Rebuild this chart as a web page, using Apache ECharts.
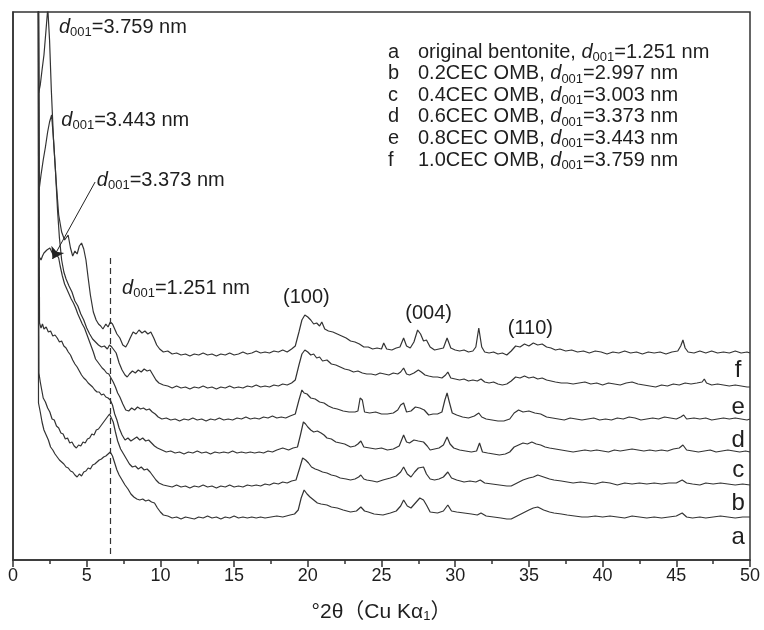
<!DOCTYPE html>
<html>
<head>
<meta charset="utf-8">
<script src="https://cdn.jsdelivr.net/npm/echarts@6/dist/echarts.min.js"></script>
<style>
html, body { margin: 0; padding: 0; background: #fff; }
#main { width: 764px; height: 630px; }
</style>
</head>
<body>
<div id="main"></div>
<script>
// XRD patterns, stacked with offsets: [2θ (°), intensity (a.u.)]
const curveA = [[1.70,700],[1.73,157],[1.85,148],[1.97,138],[2.10,130],[2.25,125],[2.40,120],[2.55,113],[2.70,110],[2.85,106],[3.00,103],[3.15,100],[3.30,98],[3.45,96],[3.60,93],[3.75,92],[3.90,89],[4.05,88],[4.20,85],[4.35,83],[4.50,86],[4.65,84],[4.80,88],[4.95,89],[5.10,92],[5.25,91],[5.40,95],[5.55,96],[5.70,98],[5.85,100],[6.00,101],[6.15,103],[6.30,104],[6.45,106],[6.60,108],[6.75,104],[6.90,97],[7.05,90],[7.20,85],[7.40,80],[7.60,75],[7.80,71],[8.00,66],[8.20,63],[8.40,61],[8.60,60],[8.80,61],[9.00,59],[9.20,60],[9.40,58],[9.60,57],[9.80,52],[10.0,48],[10.2,45],[10.5,44],[10.8,42],[11.1,43],[11.4,41],[11.7,43],[12.0,42],[12.3,41],[12.6,43],[12.9,42],[13.2,44],[13.5,42],[13.8,43],[14.1,41],[14.4,43],[14.7,42],[15.0,44],[15.3,42],[15.6,43],[15.9,42],[16.2,43],[16.5,42],[16.8,43],[17.1,42],[17.5,43],[17.9,44],[18.3,43],[18.8,45],[19.1,46],[19.35,50],[19.55,62],[19.75,70],[19.95,66],[20.15,63],[20.4,60],[20.65,57],[20.9,56],[21.3,55],[21.6,53],[22.0,52],[22.4,50],[22.9,48],[23.3,49],[23.6,53],[23.85,49],[24.1,48],[24.5,46],[25.1,45],[25.6,47],[26.0,49],[26.3,54],[26.5,60],[26.75,54],[27.0,52],[27.3,57],[27.6,62],[27.85,60],[28.05,55],[28.3,48],[28.8,47],[29.2,49],[29.5,55],[29.75,49],[30.1,48],[30.6,47],[31.1,46],[31.5,45],[31.75,47],[32.1,44],[32.6,43],[33.1,42],[33.5,41],[33.8,41],[34.2,44],[34.6,47],[35.0,50],[35.3,52],[35.6,53],[36.0,50],[36.4,48],[36.7,47],[37.2,46],[37.6,45],[38.1,44],[38.6,43],[39.0,43],[39.5,44],[40.0,43],[40.5,44],[41.0,43],[41.5,42],[42.0,44],[42.5,43],[43.0,42],[43.5,43],[44.0,42],[44.5,43],[45.0,44],[45.4,47],[45.7,43],[46.1,42],[46.6,43],[47.0,42],[47.5,43],[48.0,44],[48.5,43],[49.0,42],[49.5,43],[50.0,43]];
const curveB = [[1.70,700],[1.76,187],[1.85,178],[1.95,170],[2.05,162],[2.20,158],[2.35,152],[2.50,148],[2.65,141],[2.80,140],[2.95,134],[3.10,132],[3.25,127],[3.40,126],[3.55,121],[3.70,122],[3.85,117],[4.00,118],[4.15,114],[4.30,112],[4.45,115],[4.60,114],[4.75,118],[4.90,117],[5.05,121],[5.20,122],[5.35,126],[5.50,125],[5.65,130],[5.80,131],[5.95,134],[6.10,137],[6.25,140],[6.40,143],[6.55,146],[6.65,147],[6.80,138],[6.95,128],[7.10,119],[7.30,111],[7.50,106],[7.70,101],[7.90,96],[8.10,93],[8.30,94],[8.50,91],[8.70,93],[8.90,90],[9.10,91],[9.30,88],[9.50,84],[9.70,80],[9.90,77],[10.2,75],[10.5,74],[10.8,73],[11.1,75],[11.4,73],[11.7,74],[12.0,72],[12.3,74],[12.6,73],[12.9,75],[13.2,73],[13.5,74],[13.8,72],[14.1,74],[14.4,73],[14.7,75],[15.0,73],[15.3,74],[15.6,73],[15.9,75],[16.2,74],[16.5,75],[16.8,74],[17.1,76],[17.4,75],[17.7,77],[18.0,76],[18.3,78],[18.6,77],[18.9,79],[19.2,80],[19.45,92],[19.65,102],[19.85,100],[20.05,97],[20.25,93],[20.5,91],[20.7,90],[21.0,88],[21.3,87],[21.6,85],[21.9,84],[22.2,82],[22.6,81],[22.9,80],[23.2,81],[23.45,83],[23.6,85],[23.8,81],[24.0,80],[24.4,79],[24.7,78],[25.1,80],[25.6,82],[26.0,84],[26.3,88],[26.5,93],[26.75,86],[27.0,83],[27.25,88],[27.5,92],[27.85,93],[28.05,86],[28.3,81],[28.6,80],[28.9,81],[29.2,83],[29.5,88],[29.75,82],[30.1,80],[30.6,78],[31.0,79],[31.4,78],[31.7,80],[32.0,77],[32.5,76],[33.0,75],[33.5,74],[33.8,74],[34.2,77],[34.6,80],[35.0,82],[35.3,83],[35.6,85],[36.0,83],[36.4,81],[36.7,80],[37.2,79],[37.6,78],[38.0,77],[38.5,78],[39.0,77],[39.5,76],[40.0,78],[40.5,77],[41.0,75],[41.5,77],[42.0,76],[42.5,77],[43.0,76],[43.5,77],[44.0,76],[44.5,77],[45.0,77],[45.4,80],[45.7,77],[46.1,76],[46.6,75],[47.0,77],[47.5,76],[48.0,77],[48.5,76],[49.0,75],[49.5,76],[50.0,75]];
const curveC = [[1.70,700],[1.80,237],[1.90,232],[2.00,236],[2.10,231],[2.25,233],[2.40,228],[2.55,229],[2.70,224],[2.85,225],[3.00,222],[3.15,218],[3.30,219],[3.45,214],[3.60,212],[3.75,208],[3.90,205],[4.05,200],[4.20,196],[4.35,193],[4.50,189],[4.65,185],[4.80,182],[4.95,180],[5.10,177],[5.25,175],[5.40,173],[5.55,170],[5.70,168],[5.85,168],[6.00,165],[6.15,166],[6.30,163],[6.45,162],[6.60,160],[6.75,155],[6.90,146],[7.05,140],[7.20,132],[7.40,125],[7.60,120],[7.80,122],[8.00,119],[8.20,121],[8.40,123],[8.60,120],[8.80,122],[9.00,119],[9.20,120],[9.40,117],[9.60,114],[9.80,112],[10.1,110],[10.4,108],[10.7,109],[11.0,107],[11.3,108],[11.6,106],[11.9,108],[12.2,107],[12.5,109],[12.8,107],[13.1,108],[13.4,106],[13.7,108],[14.0,107],[14.3,108],[14.6,107],[14.9,109],[15.2,107],[15.5,108],[15.8,107],[16.1,108],[16.4,107],[16.7,108],[17.0,107],[17.3,109],[17.6,108],[17.9,110],[18.3,112],[18.7,110],[19.0,112],[19.3,113],[19.5,125],[19.7,138],[19.85,136],[20.0,133],[20.2,130],[20.4,128],[20.65,129],[20.9,127],[21.1,125],[21.3,122],[21.6,121],[21.9,118],[22.2,117],[22.5,116],[22.9,113],[23.2,114],[23.4,116],[23.6,119],[23.8,113],[24.2,112],[24.6,111],[25.0,112],[25.4,110],[25.8,111],[26.2,114],[26.5,125],[26.7,118],[26.9,117],[27.2,120],[27.5,119],[27.85,118],[28.1,114],[28.3,110],[28.6,111],[28.9,112],[29.2,115],[29.45,123],[29.65,116],[29.9,112],[30.3,110],[30.7,109],[31.1,108],[31.45,109],[31.65,117],[31.85,108],[32.2,107],[32.6,106],[33.0,105],[33.4,106],[33.7,108],[34.0,113],[34.3,115],[34.6,117],[34.9,116],[35.2,118],[35.5,116],[35.8,115],[36.1,113],[36.4,112],[36.8,111],[37.2,110],[37.6,109],[38.0,108],[38.4,109],[38.8,110],[39.2,109],[39.6,110],[40.0,109],[40.4,108],[40.8,110],[41.2,109],[41.6,110],[42.0,111],[42.4,110],[42.8,109],[43.2,110],[43.6,109],[44.0,110],[44.4,109],[44.8,111],[45.2,112],[45.45,115],[45.7,110],[46.1,109],[46.5,108],[46.9,109],[47.3,110],[47.7,108],[48.1,109],[48.5,110],[48.9,109],[49.3,108],[49.7,109],[50.0,108]];
const curveD = [[1.70,700],[1.79,303],[1.90,300],[2.00,304],[2.10,307],[2.20,305],[2.30,310],[2.40,308],[2.50,312],[2.60,313],[2.70,306],[2.80,310],[2.90,307],[3.00,309],[3.10,302],[3.20,294],[3.35,284],[3.50,276],[3.65,271],[3.80,266],[3.95,261],[4.10,257],[4.25,252],[4.40,246],[4.55,241],[4.70,236],[4.85,232],[5.00,226],[5.15,220],[5.30,214],[5.45,208],[5.60,201],[5.75,198],[5.90,195],[6.05,192],[6.20,190],[6.35,187],[6.50,186],[6.65,182],[6.80,178],[6.95,173],[7.10,167],[7.25,163],[7.45,156],[7.65,150],[7.85,149],[8.05,152],[8.25,150],[8.45,153],[8.65,151],[8.85,152],[9.05,150],[9.25,151],[9.45,148],[9.65,146],[9.85,143],[10.1,141],[10.4,142],[10.7,140],[11.0,141],[11.3,139],[11.6,141],[11.9,140],[12.2,142],[12.5,140],[12.8,141],[13.1,139],[13.4,141],[13.7,140],[14.0,142],[14.3,140],[14.6,141],[14.9,140],[15.2,142],[15.5,141],[15.8,143],[16.1,141],[16.4,142],[16.7,141],[17.0,143],[17.3,142],[17.6,144],[17.9,142],[18.2,143],[18.5,142],[18.8,144],[19.15,146],[19.4,160],[19.6,170],[19.75,167],[19.95,166],[20.2,162],[20.5,161],[20.8,158],[21.1,157],[21.4,154],[21.7,152],[22.0,151],[22.4,149],[22.8,148],[23.2,148],[23.4,149],[23.55,162],[23.7,160],[23.85,148],[24.2,147],[24.6,148],[25.0,146],[25.4,146],[25.8,147],[26.1,150],[26.3,155],[26.5,157],[26.7,148],[27.0,149],[27.3,153],[27.6,152],[27.9,150],[28.2,145],[28.5,146],[28.8,146],[29.1,148],[29.3,160],[29.45,167],[29.6,158],[29.8,147],[30.1,145],[30.5,143],[30.9,142],[31.3,144],[31.6,147],[31.8,143],[32.1,141],[32.5,140],[32.9,139],[33.3,139],[33.7,141],[34.0,147],[34.3,150],[34.6,148],[35.0,149],[35.4,147],[35.8,146],[36.2,143],[36.6,142],[37.0,141],[37.4,140],[37.8,142],[38.2,141],[38.6,140],[39.0,141],[39.4,142],[39.8,140],[40.2,141],[40.6,140],[41.0,142],[41.4,141],[41.8,143],[42.2,142],[42.6,140],[43.0,141],[43.4,142],[43.8,141],[44.2,143],[44.6,142],[45.0,141],[45.3,143],[45.5,145],[45.7,141],[46.2,142],[46.6,141],[47.0,142],[47.4,140],[47.8,141],[48.2,142],[48.6,141],[49.0,142],[49.4,141],[49.8,140],[50.0,141]];
const curveE = [[1.70,700],[1.77,370],[1.90,385],[2.05,400],[2.20,413],[2.35,428],[2.48,438],[2.62,445],[2.75,420],[2.88,390],[3.02,350],[3.15,322],[3.30,300],[3.45,288],[3.60,281],[3.80,274],[4.00,268],[4.20,259],[4.40,254],[4.60,246],[4.80,240],[5.00,232],[5.20,226],[5.40,221],[5.60,218],[5.80,215],[6.00,213],[6.20,214],[6.40,211],[6.55,215],[6.70,213],[6.85,210],[7.00,207],[7.20,197],[7.40,190],[7.60,185],[7.75,183],[7.90,186],[8.10,189],[8.30,187],[8.50,190],[8.70,188],[8.90,191],[9.10,189],[9.30,190],[9.50,185],[9.70,180],[9.90,177],[10.2,175],[10.5,174],[10.8,172],[11.1,174],[11.4,172],[11.7,173],[12.0,171],[12.3,173],[12.6,172],[12.9,174],[13.2,172],[13.5,173],[13.8,171],[14.1,173],[14.4,172],[14.7,174],[15.0,172],[15.3,173],[15.6,172],[15.9,174],[16.2,173],[16.5,175],[16.8,173],[17.1,174],[17.4,173],[17.7,175],[18.0,174],[18.3,176],[18.6,175],[18.9,177],[19.15,180],[19.4,195],[19.6,206],[19.8,210],[20.0,208],[20.2,205],[20.4,206],[20.6,202],[20.8,203],[21.0,199],[21.3,200],[21.6,196],[21.9,195],[22.2,193],[22.5,191],[22.8,190],[23.1,188],[23.4,189],[23.7,187],[24.0,186],[24.3,186],[24.6,185],[24.9,187],[25.2,186],[25.5,185],[25.8,187],[26.1,186],[26.3,188],[26.5,192],[26.7,186],[26.9,185],[27.2,187],[27.5,190],[27.7,188],[27.95,185],[28.2,184],[28.5,183],[28.8,183],[29.1,182],[29.35,185],[29.5,188],[29.7,182],[30.0,181],[30.3,180],[30.6,181],[30.9,179],[31.2,180],[31.5,179],[31.75,181],[32.0,178],[32.3,177],[32.6,178],[32.9,176],[33.2,175],[33.5,176],[33.8,179],[34.1,183],[34.4,182],[34.7,184],[35.0,182],[35.3,183],[35.6,181],[35.9,182],[36.2,180],[36.5,179],[36.8,178],[37.2,177],[37.6,177],[38.0,176],[38.4,177],[38.8,178],[39.2,176],[39.6,177],[40.0,175],[40.4,177],[40.8,176],[41.2,175],[41.6,177],[42.0,178],[42.4,176],[42.8,175],[43.2,174],[43.6,173],[44.0,175],[44.4,174],[44.8,176],[45.2,175],[45.6,177],[46.0,176],[46.4,177],[46.75,178],[46.9,181],[47.05,177],[47.4,175],[47.8,176],[48.2,175],[48.6,174],[49.0,175],[49.4,174],[49.8,173],[50.0,173]];
const curveF = [[1.70,700],[1.74,467],[1.85,475],[1.97,490],[2.10,505],[2.24,530],[2.36,552],[2.48,520],[2.60,470],[2.75,420],[2.92,380],[3.10,345],[3.30,328],[3.50,320],[3.74,325],[3.90,312],[4.05,304],[4.20,309],[4.35,306],[4.50,314],[4.65,317],[4.80,311],[4.95,300],[5.10,282],[5.25,265],[5.45,248],[5.64,240],[5.80,236],[5.95,234],[6.10,231],[6.30,236],[6.45,233],[6.60,238],[6.75,236],[6.90,231],[7.05,226],[7.25,222],[7.45,215],[7.65,213],[7.80,217],[7.95,222],[8.15,228],[8.35,226],[8.55,230],[8.75,227],[8.95,229],[9.15,226],[9.35,228],[9.55,222],[9.75,215],[9.95,211],[10.2,208],[10.5,209],[10.8,206],[11.1,207],[11.4,205],[11.7,206],[12.0,204],[12.3,206],[12.6,205],[12.9,207],[13.2,205],[13.5,206],[13.8,204],[14.1,206],[14.4,205],[14.7,207],[15.0,205],[15.3,206],[15.6,208],[15.9,206],[16.2,207],[16.5,209],[16.8,207],[17.1,208],[17.4,207],[17.7,209],[18.0,208],[18.3,210],[18.6,208],[18.9,211],[19.15,214],[19.4,228],[19.6,240],[19.8,245],[20.0,243],[20.2,240],[20.4,236],[20.6,237],[20.8,234],[20.95,238],[21.15,231],[21.4,229],[21.7,228],[22.0,226],[22.3,224],[22.6,222],[22.9,219],[23.2,218],[23.5,216],[23.8,213],[24.1,213],[24.4,211],[24.7,212],[25.0,211],[25.15,217],[25.35,211],[25.7,210],[26.0,212],[26.25,213],[26.5,222],[26.7,214],[26.95,212],[27.2,218],[27.45,230],[27.65,226],[27.85,219],[28.05,220],[28.3,213],[28.6,210],[28.9,211],[29.2,212],[29.45,222],[29.7,212],[30.0,210],[30.3,209],[30.6,210],[30.9,208],[31.2,209],[31.4,213],[31.6,232],[31.8,213],[32.0,208],[32.3,207],[32.6,208],[32.9,206],[33.2,207],[33.5,205],[33.8,209],[34.1,214],[34.4,213],[34.7,216],[35.0,214],[35.3,217],[35.6,215],[35.9,216],[36.2,213],[36.5,212],[36.8,210],[37.1,211],[37.5,209],[37.9,210],[38.3,208],[38.7,209],[39.1,207],[39.5,209],[39.9,208],[40.3,206],[40.7,208],[41.1,207],[41.5,209],[41.9,207],[42.3,208],[42.7,206],[43.1,208],[43.5,207],[43.9,208],[44.3,206],[44.7,208],[45.1,209],[45.3,214],[45.45,220],[45.6,212],[45.8,208],[46.2,207],[46.6,209],[47.0,207],[47.4,209],[47.8,207],[48.2,208],[48.6,207],[49.0,209],[49.4,207],[49.8,208],[50.0,207]];

const curveNames = ['a', 'b', 'c', 'd', 'e', 'f'];
const curveLabelPos = [[49.2, 23], [49.2, 57], [49.2, 90], [49.2, 120], [49.2, 153], [49.2, 190]];
const legendRows = [
  ['a', 'original bentonite, ', '1.251'],
  ['b', '0.2CEC OMB, ', '2.997'],
  ['c', '0.4CEC OMB, ', '3.003'],
  ['d', '0.6CEC OMB, ', '3.373'],
  ['e', '0.8CEC OMB, ', '3.443'],
  ['f', '1.0CEC OMB, ', '3.759']
];
// d001 annotations: [value, 2θ, intensity] (left anchor)
const spacingNotes = [['3.759', 3.12, 533], ['3.443', 3.28, 440], ['3.373', 5.69, 380], ['1.251', 7.40, 272]];
// peak indices: [label, 2θ, intensity] (centre)
const peakNotes = [['(100)', 19.9, 263], ['(004)', 28.2, 247], ['(110)', 35.1, 232]];
const arrowFrom = [5.57, 378];
const arrowTo = [2.68, 301];
const dashedX = 6.6;
const dashedRange = [302, 5];

const FONT = '"Liberation Sans", Arial, "Noto Sans CJK SC", sans-serif';
const INK = '#1e1e1e';
const LINE = '#333333';

const chart = echarts.init(document.getElementById('main'));
const curves = [curveA, curveB, curveC, curveD, curveE, curveF];

const series = curves.map((data, i) => {
  const s = {
    name: curveNames[i],
    type: 'line',
    data: data,
    showSymbol: false,
    symbol: 'none',
    clip: true,
    lineStyle: { color: LINE, width: 1.2 },
    animation: false,
    silent: true
  };
  if (i === 0) {
    s.markLine = {
      silent: true,
      symbol: ['none', 'none'],
      label: { show: false },
      lineStyle: { color: '#333', width: 1.2, type: [6, 4] },
      data: [[{ coord: [dashedX, dashedRange[0]] }, { coord: [dashedX, dashedRange[1]] }]],
      animation: false
    };
  }
  if (i === 3) {
    s.markLine = {
      silent: true,
      symbol: ['none', 'arrow'],
      symbolSize: 11,
      label: { show: false },
      lineStyle: { color: '#222', width: 1, type: 'solid' },
      data: [[{ coord: arrowFrom }, { coord: arrowTo }]],
      animation: false
    };
  }
  return s;
});

const option = {
  animation: false,
  textStyle: { fontFamily: FONT },
  grid: {
    left: 13, right: 14, top: 12, bottom: 70,
    show: true, borderColor: '#333', borderWidth: 1.5, backgroundColor: 'transparent'
  },
  xAxis: {
    type: 'value',
    min: 0, max: 50, interval: 5,
    axisLine: { show: true, onZero: false, lineStyle: { color: '#333', width: 1.5 } },
    axisTick: { show: true, length: 7, lineStyle: { color: '#333', width: 1.5 } },
    minorTick: { show: true, splitNumber: 2, length: 4, lineStyle: { color: '#333', width: 1.5 } },
    splitLine: { show: false },
    axisLabel: { fontSize: 18, color: INK, margin: 7, fontFamily: FONT },
    name: '°2θ（Cu Kα{s|1}）',
    nameLocation: 'middle',
    nameGap: 42,
    nameTextStyle: {
      fontSize: 21, color: INK, fontFamily: FONT,
      rich: { s: { fontSize: 13, verticalAlign: 'bottom', color: INK, fontFamily: FONT } }
    }
  },
  yAxis: {
    type: 'value',
    min: 0, max: 548,
    axisLine: { show: true, lineStyle: { color: '#333', width: 1.5 } },
    axisTick: { show: false },
    axisLabel: { show: false },
    splitLine: { show: false }
  },
  series: series
};
chart.setOption(option);

const richD = {
  i: { fontStyle: 'italic', fontSize: 20, fill: INK, fontFamily: FONT },
  s: { fontSize: 13, verticalAlign: 'bottom', fill: INK, fontFamily: FONT }
};
const graphics = [];
legendRows.forEach((row, i) => {
  const y = 52 + i * 21.6;
  graphics.push({
    type: 'text', x: 388, y: y, silent: true,
    style: { text: row[0], fontSize: 20, fontFamily: FONT, fill: INK, verticalAlign: 'middle', align: 'left' }
  });
  graphics.push({
    type: 'text', x: 418, y: y, silent: true,
    style: {
      text: row[1] + '{i|d}{s|001}=' + row[2] + ' nm',
      fontSize: 20, fontFamily: FONT, fill: INK, verticalAlign: 'middle', align: 'left',
      lineHeight: 24, rich: richD
    }
  });
});
spacingNotes.forEach(n => {
  const p = chart.convertToPixel({ gridIndex: 0 }, [n[1], n[2]]);
  graphics.push({
    type: 'text', x: p[0], y: p[1], silent: true,
    style: {
      text: '{i|d}{s|001}=' + n[0] + ' nm',
      fontSize: 20, fontFamily: FONT, fill: INK, verticalAlign: 'middle', align: 'left',
      lineHeight: 24, rich: richD
    }
  });
});
peakNotes.forEach(n => {
  const p = chart.convertToPixel({ gridIndex: 0 }, [n[1], n[2]]);
  graphics.push({
    type: 'text', x: p[0], y: p[1], silent: true,
    style: { text: n[0], fontSize: 20, fontFamily: FONT, fill: INK, verticalAlign: 'middle', align: 'center' }
  });
});
curveNames.forEach((nm, i) => {
  const p = chart.convertToPixel({ gridIndex: 0 }, curveLabelPos[i]);
  graphics.push({
    type: 'text', x: p[0], y: p[1], silent: true,
    style: { text: nm, fontSize: 24, fontFamily: FONT, fill: INK, verticalAlign: 'middle', align: 'center' }
  });
});
chart.setOption({ graphic: graphics });
</script>
</body>
</html>
